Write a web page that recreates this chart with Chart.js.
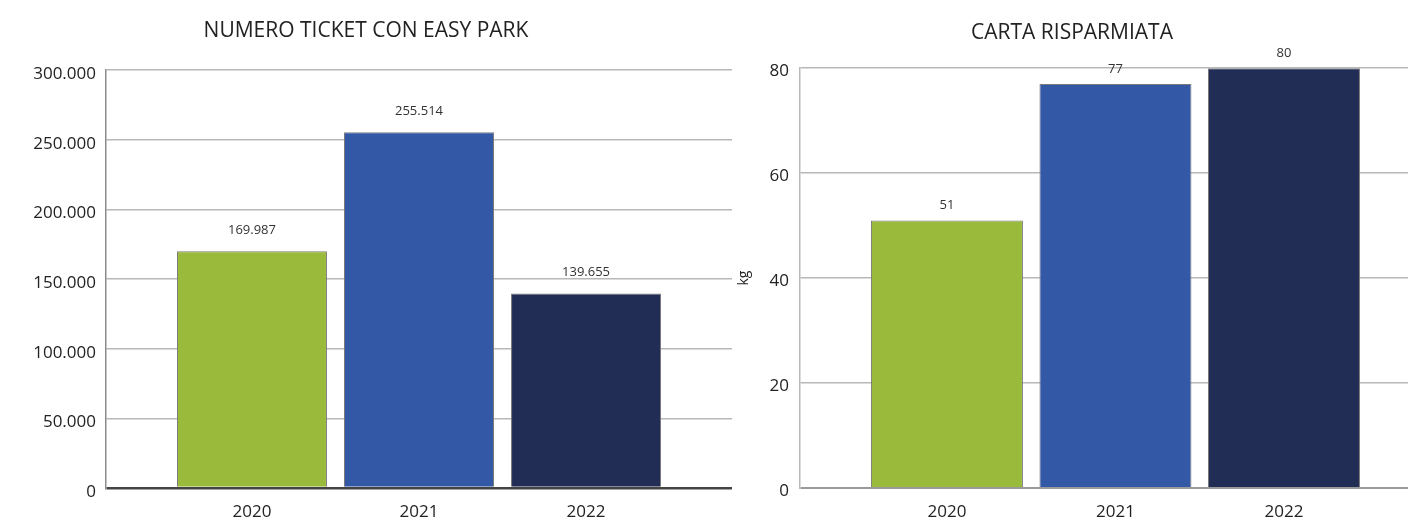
<!DOCTYPE html>
<html>
<head>
<meta charset="utf-8">
<script src="https://cdn.jsdelivr.net/npm/chart.js@4.4.1/dist/chart.umd.min.js"></script>
<style>
  html, body { margin: 0; padding: 0; background: #ffffff; }
  #wrap { position: relative; width: 1408px; height: 520px; overflow: hidden; }
  #c1 { position: absolute; left: 0; top: 0; }
  #c2 { position: absolute; left: 736px; top: 0; }
</style>
</head>
<body>
<div id="wrap">
  <canvas id="c1" width="740" height="520"></canvas>
  <canvas id="c2" width="672" height="520"></canvas>
</div>
<script>
// ---- data ----
const years = [2020, 2021, 2022];
const ticketValues = [169987, 255514, 139655];
const paperValues = [51, 77, 80];
const ticketTicks = [0, 50000, 100000, 150000, 200000, 250000, 300000];
const paperTicks = [0, 20, 40, 60, 80];
const ticketTitle = 'NUMERO TICKET CON EASY PARK';
const paperTitle = 'CARTA RISPARMIATA';
const paperUnit = 'kg';
const barColors = ['#9aba3b', '#3258a6', '#222d56'];

const FONT = "'Open Sans', 'Liberation Sans', sans-serif";
const fmt = v => String(v).replace(/\B(?=(\d{3})+(?!\d))/g, '.');

const valueLabels = {
  id: 'valueLabels',
  afterDatasetsDraw(chart, args, opts) {
    const ctx = chart.ctx;
    const meta = chart.getDatasetMeta(0);
    const vals = chart.data.datasets[0].data;
    ctx.save();
    ctx.font = '13px ' + FONT;
    ctx.fillStyle = '#333333';
    ctx.textAlign = 'center';
    ctx.textBaseline = 'middle';
    meta.data.forEach((el, i) => {
      ctx.fillText(fmt(vals[i].y), el.x, el.y - opts.offset);
    });
    ctx.restore();
  }
};

function makeChart(id, values, ticks, title, opt) {
  return new Chart(document.getElementById(id), {
    type: 'bar',
    data: {
      datasets: [{
        data: years.map((y, i) => ({ x: y, y: values[i] })),
        backgroundColor: barColors,
        borderColor: '#7a7a7a',
        borderWidth: 1,
        categoryPercentage: 1,
        barPercentage: opt.barPct
      }]
    },
    plugins: [valueLabels],
    options: {
      responsive: false,
      devicePixelRatio: 1,
      animation: false,
      layout: { padding: { left: 0, right: opt.padRight, top: 0, bottom: 0 } },
      plugins: {
        legend: { display: false },
        tooltip: { enabled: false },
        title: {
          display: true,
          text: title,
          color: '#222222',
          font: { family: FONT, size: 21, weight: 'normal', lineHeight: 1.2 },
          padding: { top: opt.titleTop, bottom: opt.titleBottom }
        },
        valueLabels: { offset: opt.labelOffset }
      },
      scales: {
        x: {
          type: 'linear',
          offset: false,
          bounds: 'data',
          min: opt.xMin,
          max: opt.xMax,
          afterFit: s => { s.height = 32; },
          afterBuildTicks: s => { s.ticks = years.map(v => ({ value: v })); },
          grid: { display: false, drawTicks: false, offset: false },
          border: { display: false },
          ticks: {
            color: '#222222',
            font: { family: FONT, size: 17 },
            padding: 14,
            autoSkip: false,
            maxRotation: 0,
            callback: v => String(v)
          }
        },
        y: {
          min: 0,
          max: ticks[ticks.length - 1],
          afterFit: s => { s.width = opt.yWidth; },
          afterBuildTicks: s => { s.ticks = ticks.map(v => ({ value: v })); },
          title: {
            display: !!opt.yTitle,
            text: opt.yTitle || '',
            color: '#222222',
            font: { family: FONT, size: 14 },
            padding: { top: 0, bottom: 0 }
          },
          grid: {
            drawTicks: false,
            color: c => c.tick && c.tick.value === 0 ? opt.zeroColor : '#b8b8b8',
            lineWidth: c => c.tick && c.tick.value === 0 ? opt.zeroWidth : 1.5
          },
          border: { display: true, color: opt.axisColor, width: 1.5 },
          ticks: {
            color: '#222222',
            font: { family: FONT, size: 17 },
            padding: opt.tickPad,
            labelOffset: opt.labelOff,
            callback: v => fmt(v)
          }
        }
      }
    }
  });
}

makeChart('c1', ticketValues, ticketTicks, ticketTitle, {
  barPct: 0.898, padRight: 8, titleTop: 18, titleBottom: 27,
  labelOffset: 21, xMin: 2019.126, xMax: 2022.874, yWidth: 106,
  zeroColor: '#444444', zeroWidth: 2.5, axisColor: '#8c8c8c',
  tickPad: 10, labelOff: 4
});

makeChart('c2', paperValues, paperTicks, paperTitle, {
  barPct: 0.902, padRight: 0, titleTop: 20, titleBottom: 23,
  labelOffset: 15, xMin: 2019.128, xMax: 2022.736, yWidth: 64,
  zeroColor: '#9a9a9a', zeroWidth: 2, axisColor: '#b8b8b8',
  tickPad: 11, labelOff: 3, yTitle: paperUnit
});
</script>
</body>
</html>
